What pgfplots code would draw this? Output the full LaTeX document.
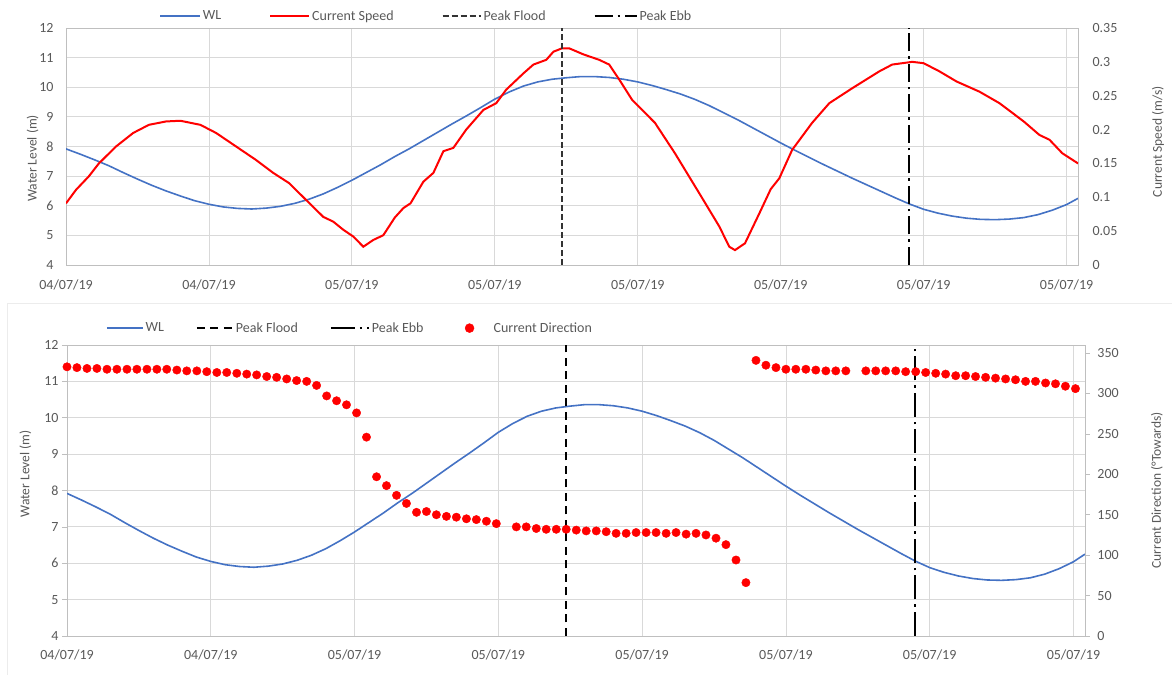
\documentclass[border=0pt]{standalone}
\usepackage{pgfplots}
\pgfplotsset{compat=1.18}
\usepackage{pgfplotstable}
\usepackage{fontspec}
\setmainfont{Carlito}
\definecolor{wlblue}{HTML}{4472C4}
\definecolor{txtgray}{HTML}{595959}
\definecolor{gridgray}{HTML}{D9D9D9}
\definecolor{axgray}{HTML}{BFBFBF}

\pgfplotstableread{
x wl
0.00 7.92
0.10 7.74
0.20 7.55
0.30 7.35
0.40 7.12
0.50 6.90
0.60 6.69
0.70 6.50
0.80 6.33
0.90 6.17
1.00 6.05
1.10 5.96
1.20 5.91
1.30 5.89
1.40 5.92
1.50 5.98
1.60 6.08
1.70 6.22
1.80 6.40
1.90 6.62
2.00 6.86
2.10 7.12
2.20 7.38
2.30 7.66
2.40 7.92
2.50 8.20
2.60 8.48
2.70 8.76
2.80 9.03
2.90 9.31
3.00 9.60
3.10 9.84
3.20 10.04
3.30 10.18
3.40 10.27
3.50 10.32
3.60 10.36
3.70 10.36
3.80 10.33
3.90 10.27
4.00 10.18
4.10 10.06
4.20 9.92
4.30 9.77
4.40 9.59
4.50 9.38
4.60 9.14
4.70 8.90
4.80 8.64
4.90 8.38
5.00 8.12
5.10 7.87
5.20 7.63
5.30 7.39
5.40 7.16
5.50 6.93
5.60 6.71
5.70 6.49
5.80 6.27
5.90 6.06
6.00 5.88
6.10 5.75
6.20 5.65
6.30 5.58
6.40 5.54
6.50 5.53
6.60 5.55
6.70 5.60
6.80 5.70
6.90 5.85
7.00 6.04
7.08 6.25
}\wltable

\pgfplotstableread{
x sp
0.00 0.091
0.07 0.111
0.16 0.131
0.23 0.150
0.35 0.175
0.47 0.195
0.58 0.207
0.70 0.212
0.80 0.213
0.94 0.207
1.05 0.195
1.19 0.175
1.33 0.155
1.45 0.136
1.56 0.121
1.68 0.096
1.80 0.071
1.87 0.064
1.94 0.052
2.01 0.042
2.08 0.027
2.15 0.037
2.22 0.044
2.30 0.070
2.36 0.084
2.41 0.091
2.50 0.123
2.57 0.136
2.64 0.168
2.71 0.173
2.80 0.200
2.92 0.229
3.01 0.239
3.08 0.259
3.20 0.283
3.27 0.296
3.36 0.303
3.41 0.315
3.47 0.320
3.52 0.320
3.62 0.311
3.73 0.303
3.80 0.296
3.87 0.274
3.96 0.244
4.12 0.210
4.26 0.165
4.43 0.106
4.57 0.057
4.64 0.027
4.68 0.022
4.75 0.032
4.85 0.076
4.93 0.112
4.99 0.128
5.08 0.170
5.22 0.210
5.34 0.239
5.50 0.261
5.69 0.286
5.78 0.296
5.92 0.300
6.00 0.298
6.11 0.286
6.23 0.271
6.39 0.256
6.53 0.239
6.70 0.212
6.81 0.192
6.88 0.185
6.97 0.165
7.08 0.150
}\sptable

\pgfplotstableread{
x dir
0.000 333
0.069 332
0.139 331
0.208 331
0.278 330
0.347 330
0.417 330
0.486 330
0.556 330
0.625 330
0.694 330
0.764 329
0.833 328
0.903 328
0.972 327
1.042 326
1.111 326
1.181 325
1.250 324
1.319 323
1.389 321
1.458 320
1.528 318
1.597 316
1.667 315
1.736 310
1.806 297
1.875 291
1.944 286
2.014 276
2.083 246
2.153 197
2.222 186
2.292 174
2.361 164
2.431 153
2.500 154
2.569 150
2.639 148
2.708 147
2.778 145
2.847 144
2.917 142
2.986 139
3.125 135
3.194 135
3.264 133
3.333 132
3.403 132
3.472 132
3.542 131
3.611 130
3.681 130
3.750 129
3.819 127
3.889 127
3.958 128
4.028 128
4.097 128
4.167 127
4.236 128
4.306 126
4.375 127
4.444 125
4.514 121
4.583 113
4.653 94
4.722 66
4.792 341
4.861 335
4.931 332
5.000 330
5.069 330
5.139 330
5.208 329
5.278 328
5.347 328
5.417 328
5.556 328
5.625 328
5.694 328
5.764 328
5.833 327
5.903 327
5.972 326
6.042 325
6.111 324
6.181 322
6.250 322
6.319 321
6.389 320
6.458 319
6.528 318
6.597 317
6.667 315
6.736 315
6.806 313
6.875 312
6.944 309
7.014 306
7.083 306
}\dirtable

\pgfplotsset{
  base/.style={
    scale only axis, anchor=south west,
    xmin=0, xmax=7.08,
    tick label style={font=\fontsize{14bp}{16bp}\selectfont, text=txtgray},
    label style={font=\fontsize{13.5bp}{16bp}\selectfont, text=txtgray},
    legend style={font=\fontsize{14bp}{16bp}\selectfont, text=txtgray, draw=none, fill=none, legend columns=4},
    legend cell align=left,
    tick align=outside, major tick length=5bp,
    tick style={axgray, line width=0.6bp},
    axis line style={axgray, line width=0.8bp},
  },
  linelegend/.style={legend image code/.code={\draw[##1] (0bp,0bp) -- (#1,0bp);}},
}

\begin{document}
\begin{tikzpicture}
\useasboundingbox (0,0) rectangle (1172bp,675bp);
\draw[gray!15, line width=1bp] (7.5bp,0bp) -- (7.5bp,371bp) -- (1172bp,371bp);

% ---------------- TOP PANEL ----------------
\begin{axis}[base, at={(66bp,410bp)}, width=1012bp, height=237bp,
  ymin=4, ymax=12,
  xtick={0,1,2,3,4,5,6,7},
  xticklabels={04/07/19,04/07/19,05/07/19,05/07/19,05/07/19,05/07/19,05/07/19,05/07/19},
  xtick style={draw=none},
  xticklabel style={yshift=-6bp},
  ytick={4,5,6,7,8,9,10,11,12},
  yticklabels={4,5,6,7,8,9,10,11,12},
  ytick pos=left, xtick pos=bottom,
  ytick style={draw=none},
  yticklabel style={xshift=-4bp},
  grid=major, grid style={gridgray, line width=0.8bp},
  ylabel={Water Level (m)},
  ylabel style={at={(axis description cs:-0.033,0.45)}, anchor=center},
]
\addplot[wlblue, line width=1.6bp] table[x=x, y=wl] {\wltable};
\end{axis}

\begin{axis}[base, at={(66bp,410bp)}, width=1012bp, height=237bp,
  ymin=0, ymax=0.35,
  axis x line=none, axis y line*=right,
  ytick={0,0.05,0.1,0.15,0.2,0.25,0.3,0.35},
  yticklabels={0,0.05,0.1,0.15,0.2,0.25,0.3,0.35},
  ytick style={draw=none},
  yticklabel style={xshift=6bp},
  ylabel={Current Speed (m/s)},
  ylabel style={at={(axis description cs:1.079,0.52)}, anchor=center},
  legend style={at={(axis description cs:0.356,1.05)}, anchor=center,
    /tikz/every even column/.append style={column sep=46bp}},
]
\addlegendimage{wlblue, line width=1.6bp, linelegend=40bp}
\addlegendentry{WL}
\addplot[red, line width=2bp, linelegend=39bp] table[x=x, y=sp] {\sptable};
\addlegendentry{Current Speed}
\addplot[black!80, line width=2bp, dash pattern=on 6bp off 3bp, linelegend=38bp] coordinates {(3.47,0) (3.47,0.35)};
\addlegendentry{Peak Flood}
\addplot[black, line width=2bp, dash pattern=on 18bp off 5bp on 2.5bp off 5bp, linelegend=42bp] coordinates {(5.895,0) (5.895,0.35)};
\addlegendentry{Peak Ebb}
\end{axis}

% ---------------- BOTTOM PANEL ----------------
\begin{axis}[base, at={(67bp,39bp)}, width=1018bp, height=291bp,
  ymin=4, ymax=12,
  xtick={0,1,2,3,4,5,6,7},
  xticklabels={04/07/19,04/07/19,05/07/19,05/07/19,05/07/19,05/07/19,05/07/19,05/07/19},
  xtick style={draw=none},
  xticklabel style={yshift=-5bp},
  ytick={4,5,6,7,8,9,10,11,12},
  yticklabels={4,5,6,7,8,9,10,11,12},
  ytick pos=left, xtick pos=bottom,
  grid=major, grid style={gridgray, line width=0.8bp},
  ylabel={Water Level (m)},
  ylabel style={at={(axis description cs:-0.041,0.557)}, anchor=center},
]
\addplot[wlblue, line width=1.6bp] table[x=x, y=wl] {\wltable};
\end{axis}

\begin{axis}[base, at={(67bp,39bp)}, width=1018bp, height=291bp,
  ymin=0, ymax=360,
  axis x line=none, axis y line*=right,
  ytick={0,50,100,150,200,250,300,350},
  yticklabels={0,50,100,150,200,250,300,350},
  yticklabel style={xshift=4bp},
  ylabel={Current Direction (°Towards)},
  ylabel style={at={(axis description cs:1.0707,0.5)}, anchor=center},
  legend style={at={(axis description cs:0.278,1.058)}, anchor=center,
    /tikz/every even column/.append style={column sep=30bp}},
]
\addlegendimage{wlblue, line width=1.6bp, linelegend=36bp}
\addlegendentry{WL}
\addplot[black, line width=2bp, dash pattern=on 8bp off 5.5bp, linelegend=36bp] coordinates {(3.47,0) (3.47,360)};
\addlegendentry{Peak Flood}
\addplot[black, line width=2bp, dash pattern=on 24bp off 5bp on 2.5bp off 5bp, linelegend=38bp] coordinates {(5.9,0) (5.9,360)};
\addlegendentry{Peak Ebb}
\addlegendimage{legend image code/.code={\path[draw=none] (0bp,0bp) -- (36bp,0bp); \fill[red] (14bp,0bp) circle (4.5bp);}}
\addlegendentry{Current Direction}
\addplot[only marks, mark=*, mark size=4.2bp, red, mark options={draw=none, fill=red}, forget plot]
  table[x=x, y=dir] {\dirtable};
\end{axis}
\end{tikzpicture}
\end{document}
